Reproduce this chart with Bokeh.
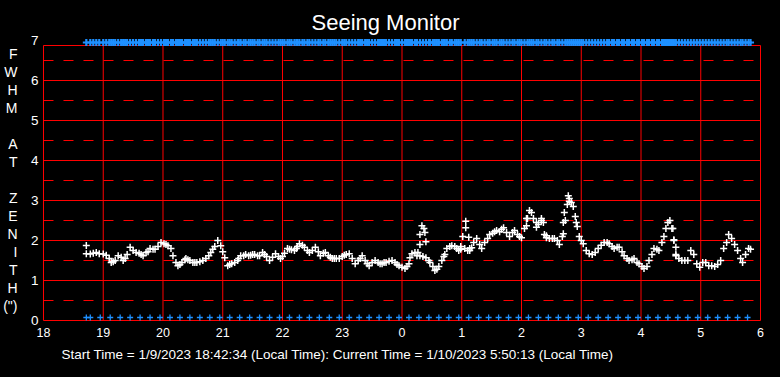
from bokeh.plotting import figure
from bokeh.models import Range1d, FixedTicker, Title, LinearAxis
from bokeh.embed import file_html
from bokeh.resources import INLINE

# ---------------- data ----------------
title_text = "Seeing Monitor"
footer_text = "Start Time = 1/9/2023 18:42:34 (Local Time): Current Time = 1/10/2023 5:50:13 (Local Time)"
y_letters = ["F", "W", "H", "M", "", "A", "T", "", "Z", "E", "N", "I", "T", "H", "(\")"]

x_ticks = [18, 19, 20, 21, 22, 23, 24, 25, 26, 27, 28, 29, 30]
x_tick_labels = ["18", "19", "20", "21", "22", "23", "0", "1", "2", "3", "4", "5", "6"]
y_ticks = [0, 1, 2, 3, 4, 5, 6, 7]
y_major_lines = [1, 2, 3, 4, 5, 6]
y_minor_lines = [0.5, 1.5, 2.5, 3.5, 4.5, 5.5, 6.5]
frame_top = 6.875

# FWHM samples: minutes after 18:00 local time, FWHM in arcsec
fwhm_minutes = [43, 47, 50, 53, 56, 60, 63, 66, 68, 70, 72, 75, 78, 80, 82, 84, 87, 90, 93, 96,
                98, 100, 103, 105, 107, 110, 112, 115, 118, 121, 123, 125, 128, 130, 133, 135, 137, 139, 142, 143,
                145, 147, 150, 152, 154, 157, 160, 163, 166, 168, 170, 172, 175, 178, 180, 182, 185, 187, 189, 192,
                195, 196, 198, 201, 203, 206, 208, 210, 212, 215, 217, 220, 222, 224, 227, 230, 233, 236, 238, 240,
                242, 245, 247, 249, 252, 254, 255, 257, 260, 262, 265, 267, 270, 273, 276, 278, 281, 283, 286, 288,
                290, 292, 294, 297, 300, 302, 304, 307, 310, 313, 316, 318, 320, 323, 325, 327, 330, 333, 336, 338,
                340, 342, 344, 347, 350, 353, 355, 357, 360, 363, 365, 367, 368, 370, 373, 375, 378, 381, 384, 387,
                388, 391, 393, 395, 397, 400, 402, 403, 405, 408, 410, 413, 415, 417, 419, 423, 426, 428, 430, 432,
                435, 438, 440, 443, 446, 448, 451, 453, 455, 458, 460, 462, 465, 468, 471, 473, 476, 478, 480, 483,
                486, 488, 490, 492, 495, 497, 500, 503, 505, 508, 511, 513, 516, 518, 521, 524, 526, 528, 530, 532,
                534, 536, 538, 540, 542, 545, 548, 551, 554, 557, 560, 563, 566, 568, 571, 573, 576, 578, 581, 583,
                586, 588, 591, 593, 596, 598, 601, 603, 606, 608, 611, 613, 616, 618, 621, 623, 625, 627, 629, 631,
                633, 635, 638, 641, 644, 647, 650, 653, 656, 659, 662, 665, 668, 671, 674, 677, 680, 683, 686, 688,
                691, 694, 697, 700, 702, 705, 708, 710]
fwhm_values = [1.67, 1.66, 1.68, 1.70, 1.67, 1.66, 1.63, 1.55, 1.45, 1.47, 1.50, 1.62, 1.58, 1.50, 1.55, 1.65, 1.83, 1.75, 1.70, 1.68,
               1.65, 1.62, 1.70, 1.72, 1.80, 1.78, 1.78, 1.85, 1.95, 1.92, 1.90, 1.87, 1.80, 1.62, 1.45, 1.37, 1.40, 1.45, 1.52, 1.55,
               1.52, 1.50, 1.45, 1.45, 1.45, 1.47, 1.50, 1.55, 1.62, 1.70, 1.78, 1.85, 2.00, 1.87, 1.72, 1.57, 1.37, 1.40, 1.42, 1.45,
               1.50, 1.55, 1.62, 1.62, 1.65, 1.62, 1.63, 1.65, 1.65, 1.62, 1.62, 1.70, 1.65, 1.60, 1.50, 1.58, 1.67, 1.60, 1.55, 1.60,
               1.68, 1.80, 1.78, 1.77, 1.75, 1.80, 1.85, 1.92, 1.88, 1.83, 1.75, 1.70, 1.75, 1.83, 1.72, 1.62, 1.68, 1.70, 1.62, 1.58,
               1.55, 1.55, 1.55, 1.55, 1.60, 1.63, 1.65, 1.67, 1.55, 1.42, 1.50, 1.55, 1.62, 1.50, 1.42, 1.37, 1.45, 1.50, 1.45, 1.42,
               1.42, 1.45, 1.45, 1.48, 1.50, 1.45, 1.40, 1.37, 1.33, 1.30, 1.35, 1.42, 1.57, 1.67, 1.70, 1.62, 1.62, 1.60, 1.57, 1.50,
               1.45, 1.35, 1.25, 1.28, 1.35, 1.50, 1.60, 1.65, 1.80, 1.85, 1.87, 1.85, 1.80, 1.75, 1.78, 1.80, 1.75, 1.75, 1.82, 1.95,
               2.05, 1.90, 1.80, 1.95, 2.05, 2.15, 2.18, 2.22, 2.25, 2.22, 2.28, 2.32, 2.20, 2.10, 2.20, 2.25, 2.15, 2.10, 2.07, 2.30,
               2.55, 2.75, 2.70, 2.55, 2.45, 2.40, 2.50, 2.15, 2.07, 2.05, 2.05, 2.05, 2.00, 1.90, 2.10, 2.50, 2.90, 3.05, 2.95, 2.85,
               2.60, 2.35, 2.10, 2.00, 1.92, 1.75, 1.67, 1.65, 1.70, 1.80, 1.88, 1.95, 1.95, 1.92, 1.85, 1.80, 1.83, 1.83, 1.72, 1.62,
               1.55, 1.50, 1.52, 1.55, 1.45, 1.42, 1.35, 1.30, 1.35, 1.50, 1.65, 1.80, 1.78, 1.75, 1.95, 2.10, 2.30, 2.45, 2.50, 2.30,
               2.00, 1.62, 1.55, 1.50, 1.50, 1.50, 1.75, 1.65, 1.42, 1.33, 1.45, 1.45, 1.37, 1.37, 1.35, 1.40, 1.50, 1.80, 1.95, 2.15,
               2.05, 1.90, 1.75, 1.55, 1.45, 1.65, 1.80, 1.78]

outlier_minutes = [43, 376, 378, 378, 380, 382, 383, 384, 419, 421, 424, 424, 427, 428,
                   485, 485, 495, 500, 502, 505, 522, 522, 523, 527, 528, 535, 632, 633, 635, 635]
outlier_values = [1.875, 1.70, 2.15, 1.90, 2.37, 2.30, 2.20, 1.97, 1.85, 2.10, 2.48, 2.32, 2.08, 1.80,
                  2.37, 2.55, 2.33, 2.55, 2.45, 2.12, 2.45, 2.17, 2.70, 3.12, 2.98, 2.45, 2.30, 2.02, 1.83, 1.65]

# blue status markers (minutes after 18:00)
bottom_marker_minutes = [43, 47, 57, 67, 77, 87, 97, 107, 117, 127, 137, 147, 157, 167, 177, 187, 197, 207,
                         217, 227, 237, 247, 257, 267, 277, 287, 297, 307, 317, 327, 337, 347, 357, 367, 377,
                         387, 397, 407, 417, 427, 437, 447, 457, 467, 477, 487, 497, 507, 517, 527, 537, 547,
                         557, 567, 577, 587, 597, 607, 617, 627, 637, 647, 657, 667, 677, 687, 697, 707]
bottom_marker_level = 0.075
top_marker_level = 6.95

# ---------------- figure ----------------
def to_hours(mins):
    return [18 + m / 60.0 for m in mins]

FONT = "Liberation Sans"
RED = "#FF0000"
BLUE = "#1E90FF"

x_start = 18 - 1.0 / 60
y_start = -1.0 / 40
p = figure(width=780, height=377, output_backend="svg", toolbar_location=None,
           x_range=Range1d(x_start, x_start + 722 / 60.0),
           y_range=Range1d(y_start, y_start + 283 / 40.0),
           background_fill_color="black", border_fill_color="black",
           min_border_left=39, min_border_right=19, min_border_top=38, min_border_bottom=56)
p.styles = {"background-color": "black"}
p.outline_line_color = None
p.xgrid.visible = False
p.ygrid.visible = False

p.title.text = title_text
p.title.text_color = "white"
p.title.text_font = FONT
p.title.text_font_size = "22px"
p.title.text_font_style = "normal"
p.title.align = "left"
p.title.offset = 269
p.title.standoff = 8

for ax in (p.xaxis[0], p.yaxis[0]):
    ax.axis_line_color = None
    ax.major_tick_line_color = None
    ax.minor_tick_line_color = None
    ax.major_tick_out = 0
    ax.major_tick_in = 0
    ax.minor_tick_out = 0
    ax.minor_tick_in = 0
    ax.major_label_text_color = "white"
    ax.major_label_text_font = FONT

p.xaxis.ticker = FixedTicker(ticks=x_ticks)
p.xaxis.major_label_overrides = {t: l for t, l in zip(x_ticks, x_tick_labels)}
p.xaxis.major_label_text_font_size = "12.5px"
p.xaxis.major_label_standoff = 6
p.yaxis.ticker = FixedTicker(ticks=y_ticks)
p.yaxis.major_label_text_font_size = "13.5px"
p.yaxis.major_label_standoff = 4

# vertical "FWHM AT ZENITH (")" caption as an extra left axis
letter_pos = [(320 - (53 + 18.07 * i)) / 40.0 for i in range(len(y_letters))]
letter_ticks = [pos for pos, l in zip(letter_pos, y_letters) if l]
letter_axis = LinearAxis(ticker=FixedTicker(ticks=letter_ticks),
                         major_label_overrides={pos: l for pos, l in zip(letter_pos, y_letters) if l},
                         axis_line_color=None, major_tick_line_color=None, minor_tick_line_color=None,
                         major_tick_out=0, major_tick_in=0, minor_tick_out=0, minor_tick_in=0,
                         major_label_text_color="white", major_label_text_font=FONT,
                         major_label_text_font_size="14px", major_label_standoff=10)
p.add_layout(letter_axis, "left")

footer = Title(text=footer_text, text_color="white", text_font=FONT, text_font_size="13.5px",
               text_font_style="normal", align="left", offset=19, standoff=10)
p.add_layout(footer, "below")

# grid lines
x0, x1 = x_ticks[0], x_ticks[-1]
p.segment(x0=[x0] * len(y_minor_lines), y0=y_minor_lines, x1=[x1] * len(y_minor_lines), y1=y_minor_lines,
          line_color=RED, line_width=1, line_dash="10 10")
hy = [0] + y_major_lines + [frame_top]
p.segment(x0=[x0] * len(hy), y0=hy, x1=[x1] * len(hy), y1=hy, line_color=RED, line_width=1)
p.segment(x0=x_ticks, y0=[0] * len(x_ticks), x1=x_ticks, y1=[frame_top] * len(x_ticks),
          line_color=RED, line_width=1)

# data
p.scatter(to_hours(fwhm_minutes), fwhm_values, marker="cross", size=7, line_color="white", line_width=1.5)
p.scatter(to_hours(outlier_minutes), outlier_values, marker="cross", size=7, line_color="white", line_width=1.5)
p.scatter(to_hours(bottom_marker_minutes), [bottom_marker_level] * len(bottom_marker_minutes),
          marker="cross", size=6, line_color=BLUE, line_width=1.3)
p.scatter(to_hours(fwhm_minutes), [top_marker_level] * len(fwhm_minutes),
          marker="cross", size=7, line_color=BLUE, line_width=2.2)

open("out.html", "w").write(file_html(p, INLINE))
